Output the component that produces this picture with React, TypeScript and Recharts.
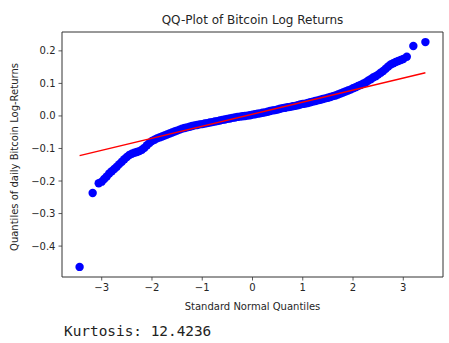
import React from "react";
import {
  ScatterChart,
  Scatter,
  XAxis,
  YAxis,
  ReferenceArea,
} from "recharts";

// Theoretical standard normal quantiles (x)
const theoreticalQuantiles: number[] = [
  -3.44, -3.18, -3.06, -3.0, -2.95, -2.9, -2.85, -2.8, -2.75, -2.7, -2.65, -2.6,
  -2.55, -2.5, -2.45, -2.4, -2.35, -2.3, -2.25, -2.2, -2.15, -2.1, -2.05, -2.0,
  -1.95, -1.9, -1.85, -1.8, -1.75, -1.7, -1.65, -1.6, -1.55, -1.5, -1.45, -1.4,
  -1.35, -1.3, -1.25, -1.2, -1.15, -1.1, -1.05, -1.0, -0.95, -0.9, -0.85, -0.8,
  -0.75, -0.7, -0.65, -0.6, -0.55, -0.5, -0.45, -0.4, -0.35, -0.3, -0.25, -0.2,
  -0.15, -0.1, -0.05, 0.0, 0.05, 0.1, 0.15, 0.2, 0.25, 0.3, 0.35, 0.4, 0.45,
  0.5, 0.55, 0.6, 0.65, 0.7, 0.75, 0.8, 0.85, 0.9, 0.95, 1.0, 1.05, 1.1, 1.15,
  1.2, 1.25, 1.3, 1.35, 1.4, 1.45, 1.5, 1.55, 1.6, 1.65, 1.7, 1.75, 1.8, 1.85,
  1.9, 1.95, 2.0, 2.05, 2.1, 2.15, 2.2, 2.25, 2.3, 2.35, 2.4, 2.45, 2.5, 2.55,
  2.6, 2.65, 2.7, 2.75, 2.8, 2.85, 2.9, 2.95, 3.0, 3.07, 3.2, 3.44,
];

// Sample quantiles of daily Bitcoin log returns (y)
const sampleQuantiles: number[] = [
  -0.464, -0.237, -0.207, -0.202, -0.194, -0.186, -0.177, -0.17, -0.163, -0.156,
  -0.148, -0.141, -0.133, -0.126, -0.12, -0.116, -0.113, -0.111, -0.108, -0.104,
  -0.098, -0.09, -0.083, -0.077, -0.073, -0.069, -0.066, -0.063, -0.06, -0.057,
  -0.054, -0.051, -0.048, -0.045, -0.042, -0.039, -0.037, -0.035, -0.033, -0.031,
  -0.029, -0.028, -0.026, -0.025, -0.023, -0.022, -0.02, -0.019, -0.017, -0.016,
  -0.014, -0.012, -0.011, -0.009, -0.008, -0.006, -0.005, -0.003, -0.002, -0.001,
  0.0, 0.001, 0.002, 0.004, 0.005, 0.007, 0.008, 0.01, 0.011, 0.013, 0.015,
  0.017, 0.018, 0.02, 0.022, 0.024, 0.025, 0.027, 0.028, 0.03, 0.031, 0.033,
  0.035, 0.037, 0.038, 0.04, 0.042, 0.044, 0.046, 0.048, 0.05, 0.052, 0.054,
  0.056, 0.058, 0.061, 0.063, 0.066, 0.069, 0.072, 0.075, 0.078, 0.081, 0.085,
  0.088, 0.092, 0.095, 0.099, 0.103, 0.108, 0.113, 0.118, 0.122, 0.127, 0.133,
  0.138, 0.145, 0.152, 0.158, 0.162, 0.166, 0.169, 0.172, 0.175, 0.182, 0.215,
  0.227,
];

// Least-squares fit line end points
const fitLineX: number[] = [-3.44, 3.44];
const fitLineY: number[] = [-0.122, 0.133];

const xTicks: number[] = [-3, -2, -1, 0, 1, 2, 3];
const yTicks: number[] = [-0.4, -0.3, -0.2, -0.1, 0.0, 0.1, 0.2];
const xDomain: [number, number] = [-3.79, 3.79];
const yDomain: [number, number] = [-0.495, 0.258];

const titleText = "QQ-Plot of Bitcoin Log Returns";
const xLabelText = "Standard Normal Quantiles";
const yLabelText = "Quantiles of daily Bitcoin Log-Returns";
const kurtosisText = "Kurtosis: 12.4236";

const points = theoreticalQuantiles.map((x, i) => ({ x, y: sampleQuantiles[i] }));
const fitPoints = fitLineX.map((x, i) => ({ x, y: fitLineY[i] }));

const minus = (s: string) => s.replace("-", "\u2212");
const fmtX = (v: number) => minus(String(v));
const fmtY = (v: number) => minus(v.toFixed(1));

const FONT = "'DejaVu Sans', sans-serif";
const TEXT = "#262626";

const Dot = (props: any) => (
  <circle cx={props.cx} cy={props.cy} r={4.2} fill="#0000ff" />
);
const NoDot = () => <g />;

export default function App() {
  return (
    <div
      style={{
        position: "absolute",
        left: 0,
        top: 0,
        width: 449,
        height: 343,
        background: "#fff",
      }}
    >
      <div
        style={{
          position: "absolute",
          left: 62,
          width: 381,
          top: 13,
          textAlign: "center",
          fontFamily: FONT,
          fontSize: 12,
          lineHeight: "14px",
          color: TEXT,
          whiteSpace: "nowrap",
        }}
      >
        {titleText}
      </div>
      <div style={{ position: "absolute", left: 0, top: 0 }}>
        <ScatterChart
          width={449}
          height={343}
          margin={{ top: 32, right: 6, left: 12, bottom: 36 }}
        >
          <XAxis
            type="number"
            dataKey="x"
            domain={xDomain}
            ticks={xTicks}
            allowDataOverflow
            tickFormatter={fmtX}
            tickSize={3.5}
            tickMargin={3}
            height={30}
            axisLine={false}
            tickLine={{ stroke: "#333", strokeWidth: 0.8 }}
            tick={{ fill: TEXT, fontSize: 10, fontFamily: FONT }}
            label={{
              content: () => (
                <text
                  x={252.5}
                  y={310}
                  textAnchor="middle"
                  fontFamily={FONT}
                  fontSize={10}
                  fill={TEXT}
                >
                  {xLabelText}
                </text>
              ),
            }}
          />
          <YAxis
            type="number"
            dataKey="y"
            domain={yDomain}
            ticks={yTicks}
            allowDataOverflow
            tickFormatter={fmtY}
            tickSize={3.5}
            tickMargin={3}
            width={50}
            axisLine={false}
            tickLine={{ stroke: "#333", strokeWidth: 0.8 }}
            tick={{ fill: TEXT, fontSize: 10, fontFamily: FONT }}
            label={{
              content: () => (
                <text
                  x={17.5}
                  y={157}
                  textAnchor="middle"
                  transform="rotate(-90 17.5 157)"
                  fontFamily={FONT}
                  fontSize={10}
                  fill={TEXT}
                >
                  {yLabelText}
                </text>
              ),
            }}
          />
          <ReferenceArea
            x1={xDomain[0]}
            x2={xDomain[1]}
            y1={yDomain[0]}
            y2={yDomain[1]}
            fill="none"
            fillOpacity={0}
            stroke="#333"
            strokeWidth={1}
            ifOverflow="visible"
          />
          <Scatter data={points} shape={Dot} isAnimationActive={false} />
          <Scatter
            data={fitPoints}
            shape={NoDot}
            line={{ stroke: "#ff0000", strokeWidth: 1.5 }}
            lineType="joint"
            isAnimationActive={false}
          />
        </ScatterChart>
      </div>
      <div
        style={{
          position: "absolute",
          left: 64,
          top: 323,
          fontFamily: "'DejaVu Sans Mono', monospace",
          fontSize: 14.4,
          lineHeight: "17px",
          color: "#222",
          whiteSpace: "nowrap",
        }}
      >
        {kurtosisText}
      </div>
    </div>
  );
}
